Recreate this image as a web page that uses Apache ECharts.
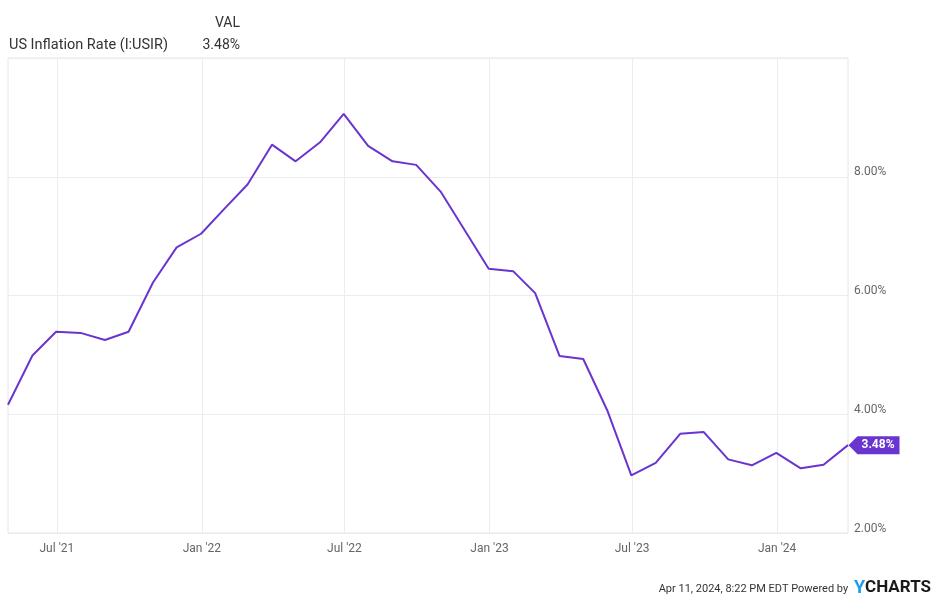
<!DOCTYPE html>
<html>
<head>
<meta charset="utf-8">
<script src="https://cdn.jsdelivr.net/npm/echarts@6/dist/echarts.min.js"></script>
<style>
html,body{margin:0;padding:0;background:#fff;}
#chart{width:936px;height:598px;}
</style>
</head>
<body>
<div id="chart"></div>
<script>
// Monthly US inflation rate (YoY), plotted at month end
var dates = ['2021-04-30','2021-05-31','2021-06-30','2021-07-31','2021-08-31','2021-09-30',
  '2021-10-31','2021-11-30','2021-12-31','2022-01-31','2022-02-28','2022-03-31',
  '2022-04-30','2022-05-31','2022-06-30','2022-07-31','2022-08-31','2022-09-30',
  '2022-10-31','2022-11-30','2022-12-31','2023-01-31','2023-02-28','2023-03-31',
  '2023-04-30','2023-05-31','2023-06-30','2023-07-31','2023-08-31','2023-09-30',
  '2023-10-31','2023-11-30','2023-12-31','2024-01-31','2024-02-29','2024-03-31'];
var values = [4.16,4.99,5.39,5.37,5.25,5.39,
  6.22,6.81,7.04,7.48,7.87,8.54,
  8.26,8.58,9.06,8.52,8.26,8.20,
  7.75,7.11,6.45,6.41,6.04,4.98,
  4.93,4.05,2.97,3.18,3.67,3.70,
  3.24,3.14,3.35,3.09,3.15,3.48];
var xTickDates = ['2021-07-01','2022-01-01','2022-07-01','2023-01-01','2023-07-01','2024-01-01'];
var xTickLabels = ["Jul '21","Jan '22","Jul '22","Jan '23","Jul '23","Jan '24"];
var seriesName = 'US Inflation Rate (I:USIR)';
var lastValue = values[values.length - 1];

function toTime(d) { return Date.parse(d + 'T00:00:00Z'); }
var xTickTimes = xTickDates.map(toTime);
var xTimes = dates.map(toTime);
var seriesData = xTimes.map(function (t, i) { return [t, values[i]]; });
var purple = '#6a34cf';

var chart = echarts.init(document.getElementById('chart'), null, {renderer: 'canvas'});
chart.setOption({
  animation: false,
  backgroundColor: '#ffffff',
  textStyle: {fontFamily: 'Roboto'},
  title: [
    {text: 'VAL', right: 936 - 245, top: 11,
      textStyle: {fontSize: 14, fontWeight: 'normal', color: '#333', fontFamily: 'Roboto'}},
    {text: seriesName, left: 4, top: 33,
      textStyle: {fontSize: 14.5, fontWeight: 'normal', color: '#333', fontFamily: 'Roboto'}},
    {text: lastValue.toFixed(2) + '%', right: 936 - 245, top: 33,
      textStyle: {fontSize: 14, fontWeight: 'normal', color: '#333', fontFamily: 'Roboto'}},
    {text: '{a|Apr 11, 2024, 8:22 PM EDT Powered by }{y|Y}{c|CHARTS}', right: 0, top: 574,
      textStyle: {fontWeight: 'normal', rich: {
        a: {fontSize: 11, color: '#333', fontWeight: 'normal', fontFamily: 'Roboto', padding: [3, 3, 0, 0]},
        y: {fontSize: 18, color: '#1e9bf0', fontWeight: 'bold', fontFamily: 'Roboto'},
        c: {fontSize: 17, color: '#1a1a1a', fontWeight: 'bold', fontFamily: 'Roboto'}
      }}}
  ],
  grid: {left: 8, right: 88, top: 58, bottom: 65, show: true, borderColor: '#e6e6e6', borderWidth: 1, containLabel: false},
  xAxis: {
    type: 'value',
    min: xTimes[0],
    max: xTimes[xTimes.length - 1],
    axisLine: {show: false},
    axisTick: {show: false, customValues: xTickTimes},
    axisLabel: {
      customValues: xTickTimes,
      color: '#666', fontSize: 12, margin: 10, fontFamily: 'Roboto',
      formatter: function (v) {
        var idx = xTickTimes.indexOf(v);
        return idx >= 0 ? xTickLabels[idx] : '';
      }
    },
    splitLine: {show: true, lineStyle: {color: '#ececec', width: 1}}
  },
  yAxis: {
    type: 'value',
    position: 'right',
    min: 2, max: 10, interval: 2,
    axisLine: {show: false},
    axisTick: {show: false},
    axisLabel: {
      color: '#666', fontSize: 12, margin: 6, fontFamily: 'Roboto',
      verticalAlign: 'bottom', lineHeight: 9,
      showMaxLabel: false,
      formatter: function (v) { return v >= 10 ? '' : v.toFixed(2) + '%'; }
    },
    splitLine: {show: true, lineStyle: {color: '#ececec', width: 1}}
  },
  series: [{
    name: seriesName,
    type: 'line',
    data: seriesData,
    showSymbol: false,
    symbol: 'none',
    lineStyle: {color: purple, width: 2},
    itemStyle: {color: purple},
    markPoint: {
      symbol: 'path://M0,9 L9,0 L51,0 L51,18 L9,18 Z',
      symbolSize: [51, 18],
      symbolOffset: [26, 0],
      silent: true,
      itemStyle: {color: purple},
      label: {
        show: true, position: 'inside', offset: [4, 0],
        color: '#fff', fontSize: 12, fontWeight: 'bold', fontFamily: 'Roboto',
        formatter: function (p) { return p.value.toFixed(2) + '%'; }
      },
      data: [{coord: [xTimes[xTimes.length - 1], lastValue], value: lastValue}]
    }
  }]
});
</script>
</body>
</html>
